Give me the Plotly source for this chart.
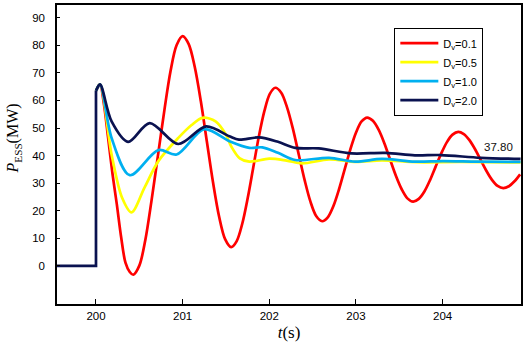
import plotly.graph_objects as go

# ---- data ----
step_t = [199.55, 200.0, 200.0]
step_p = [0.0, 0.0, 63.5]

t_red = [200.0, 200.046, 200.09, 200.14, 200.19, 200.24, 200.29, 200.34, 200.39, 200.43,
         200.50, 200.57, 200.64, 200.715, 200.79, 200.86, 200.93, 201.0,
         201.07, 201.14, 201.21, 201.28, 201.35, 201.42, 201.49, 201.56,
         201.624, 201.688, 201.751, 201.815, 201.879, 201.943, 202.006, 202.07,
         202.138, 202.205, 202.273, 202.34, 202.408, 202.475, 202.543, 202.61,
         202.675, 202.74, 202.805, 202.87, 202.935, 203.0, 203.065, 203.13,
         203.196, 203.263, 203.329, 203.395, 203.461, 203.528, 203.594, 203.66,
         203.725, 203.79, 203.855, 203.92, 203.985, 204.05, 204.115, 204.18,
         204.245, 204.31, 204.375, 204.44, 204.505, 204.57, 204.635, 204.70,
         204.765, 204.83, 204.895]
p_red = [63.5, 65.8, 59.0, 46.4, 33.5, 22.4, 10.5, 1.2, -2.2, -3.2,
         0.1, 9.5, 23.5, 40.0, 56.6, 70.6, 80.0, 83.3,
         80.4, 72.1, 59.7, 45.0, 30.4, 18.0, 9.7, 6.8,
         9.0, 15.3, 24.6, 35.7, 46.8, 56.1, 62.4, 64.6,
         62.8, 57.5, 49.7, 40.4, 31.1, 23.3, 18.0, 16.2,
         17.6, 21.7, 27.8, 35.0, 42.2, 48.3, 52.4, 53.8,
         52.6, 49.3, 44.4, 38.5, 32.7, 27.8, 24.5, 23.3,
         24.3, 27.0, 31.1, 36.0, 40.8, 44.9, 47.6, 48.6,
         47.8, 45.6, 42.3, 38.4, 34.5, 31.2, 29.0, 28.2,
         28.9, 30.7, 33.2]

t_yel = [200.0, 200.046, 200.18, 200.30, 200.41, 200.56, 200.72, 200.95, 201.10, 201.23,
         201.38, 201.50, 201.56, 201.66, 201.77, 202.0, 202.2, 202.38, 202.69, 203.0,
         203.3, 203.7, 204.2, 204.9]
p_yel = [63.5, 65.8, 40.4, 24.8, 19.4, 28.4, 38.0, 46.4, 51.0, 53.7,
         52.4, 47.6, 43.4, 39.0, 37.8, 38.9, 38.2, 37.2, 38.6, 37.7,
         38.3, 37.6, 37.7, 37.5]

t_cya = [200.0, 200.046, 200.18, 200.39, 200.72, 200.93, 201.25, 201.54, 201.77, 201.92,
         202.1, 202.30, 202.69, 202.99, 203.30, 203.68, 204.0, 204.4, 204.9]
p_cya = [63.5, 65.8, 46.4, 32.9, 42.0, 40.4, 49.6, 45.2, 42.8, 43.0,
         41.0, 38.4, 39.2, 37.8, 38.8, 37.8, 38.0, 37.8, 37.7]

t_nav = [200.0, 200.046, 200.18, 200.37, 200.62, 200.95, 201.27, 201.54, 201.65, 201.88,
         202.1, 202.30, 202.57, 202.95, 203.34, 203.68, 203.98, 204.44, 204.9]
p_nav = [63.5, 65.8, 52.4, 45.0, 51.8, 44.2, 50.6, 47.0, 45.8, 46.6,
         45.0, 42.8, 42.6, 40.8, 41.0, 40.1, 40.2, 39.2, 38.8]

names = ["D<sub>v</sub>=0.1", "D<sub>v</sub>=0.5", "D<sub>v</sub>=1.0", "D<sub>v</sub>=2.0"]
colors = ["#ff0000", "#ffff00", "#00b0f0", "#0a1250"]

x_ticks = [200, 201, 202, 203, 204]
y_ticks = [0, 10, 20, 30, 40, 50, 60, 70, 80, 90]
final_label = "37.80"
y_title = "<i>P</i><sub>ESS</sub>(MW)"
x_title = "<i>t</i>(s)"

sans = "Liberation Sans, Arial, sans-serif"
serif = "Liberation Serif, Times New Roman, serif"

fig = go.Figure()
series = [(t_red, p_red), (t_yel, p_yel), (t_cya, p_cya), (t_nav, p_nav)]
for (tt, pp), nm, col in zip(series, names, colors):
    fig.add_trace(go.Scatter(x=tt, y=pp, mode="lines", name=nm,
                             line=dict(color=col, width=2.7, shape="spline", smoothing=0.9)))
fig.add_trace(go.Scatter(x=step_t, y=step_p, mode="lines", showlegend=False,
                         line=dict(color=colors[3], width=2.7)))

fig.add_annotation(x=204.65, y=43.1, text=final_label, showarrow=False,
                   font=dict(family=sans, size=11.5, color="#111111"))
fig.add_annotation(xref="paper", yref="paper", x=-0.094, y=0.555, text=y_title,
                   textangle=-90, showarrow=False, xanchor="center", yanchor="middle",
                   font=dict(family=serif, size=16, color="black"))

fig.update_layout(
    width=526, height=346,
    margin=dict(l=57, r=3, t=3, b=42),
    paper_bgcolor="white", plot_bgcolor="white",
    showlegend=True,
    legend=dict(x=0.727, y=0.924, xanchor="left", yanchor="top",
                bgcolor="white", bordercolor="black", borderwidth=1,
                font=dict(family=sans, size=11, color="black"),
                itemwidth=38, tracegroupgap=0),
    font=dict(family=sans, size=11.5, color="black"),
)
fig.update_xaxes(range=[199.55, 204.905], tickvals=x_ticks, ticktext=[str(v) for v in x_ticks],
                 showgrid=False, zeroline=False, showline=True, linecolor="black", linewidth=1.5,
                 mirror=True, ticks="inside", ticklen=5, tickcolor="black",
                 tickfont=dict(family=sans, size=11.5, color="black"),
                 title=dict(text=x_title, font=dict(family=serif, size=17, color="black"), standoff=6))
fig.update_yaxes(range=[-13.8, 94.6], tickvals=y_ticks, ticktext=[str(v) for v in y_ticks],
                 showgrid=False, zeroline=False, showline=True, linecolor="black", linewidth=1.5,
                 mirror=True, ticks="inside", ticklen=3, tickcolor="black",
                 ticklabelstandoff=8,
                 tickfont=dict(family=sans, size=11.5, color="black"))

fig.write_html("out.html", config={"displayModeBar": False},
               post_script="document.body.style.margin='0';")
